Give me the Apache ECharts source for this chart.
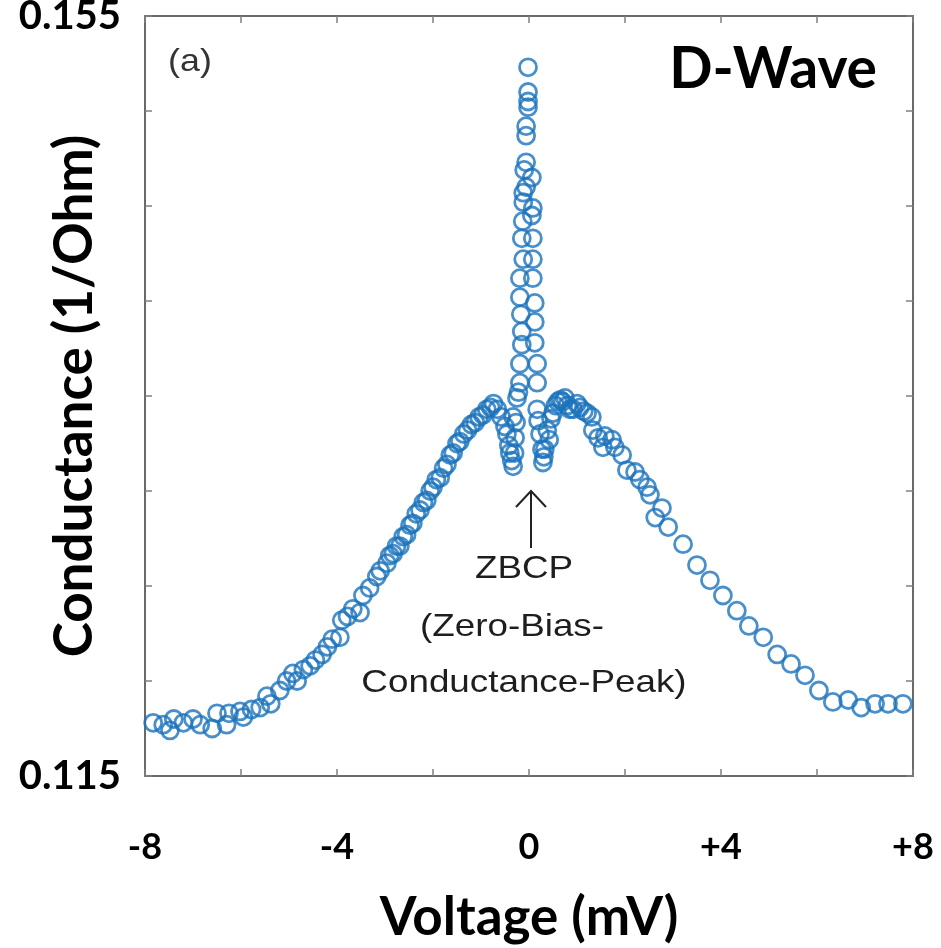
<!DOCTYPE html>
<html>
<head>
<meta charset="utf-8">
<script src="https://cdn.jsdelivr.net/npm/echarts@6/dist/echarts.min.js"></script>
<style>
  html, body { margin: 0; padding: 0; background: #fff; }
  #chart { width: 941px; height: 948px; }
</style>
</head>
<body>
<div id="chart"></div>
<script>
// bias voltage (mV) / conductance (1/Ohm)
// left wing: flat tail, rising edge, shoulder and left dip
var leftV = [-7.83,-7.62,-7.48,-7.40,-7.20,-7.00,-6.85,-6.60,-6.50,-6.30,
  -6.25,-6.02,-5.95,-5.78,-5.60,-5.46,-5.38,-5.19,-5.05,-4.92,
  -4.83,-4.70,-4.56,-4.45,-4.31,-4.20,-4.10,-3.94,-3.90,-3.78,
  -3.67,-3.52,-3.46,-3.32,-3.17,-3.10,-2.96,-2.90,-2.83,-2.76,
  -2.69,-2.62,-2.55,-2.48,-2.42,-2.35,-2.27,-2.20,-2.13,-2.06,
  -2.00,-1.93,-1.85,-1.78,-1.71,-1.64,-1.58,-1.50,-1.44,-1.36,
  -1.28,-1.20,-1.12,-1.04,-0.96,-0.88,-0.80,-0.74,-0.66,-0.58,
  -0.50,-0.46,-0.42,-0.40,-0.36,-0.33];
var leftG = [0.1178,0.1177,0.1174,0.1180,0.1178,0.1180,0.1177,0.1175,0.1183,0.1177,
  0.1183,0.1184,0.1181,0.1185,0.1186,0.1192,0.1188,0.1195,0.1200,0.1204,
  0.1200,0.1206,0.1208,0.1211,0.1214,0.1218,0.1222,0.1223,0.1232,0.1234,
  0.1238,0.1236,0.1245,0.1249,0.1255,0.1258,0.1262,0.1266,0.1267,0.1271,
  0.1271,0.1276,0.1277,0.1282,0.1283,0.1288,0.1290,0.1294,0.1295,0.1300,
  0.1302,0.1306,0.1307,0.1312,0.1314,0.1319,0.1320,0.1325,0.1326,0.1330,
  0.1332,0.1335,0.1336,0.1339,0.1340,0.1343,0.1344,0.1346,0.1343,0.1339,
  0.1334,0.1330,0.1324,0.1320,0.1316,0.1313];

// zero-bias peak (two columns of points)
var peakV = [-0.30,-0.29,-0.27,-0.33,-0.25,-0.22,-0.19,-0.19,-0.15,-0.15,
  -0.17,-0.19,-0.19,-0.12,-0.15,-0.13,-0.12,-0.12,-0.06,-0.10,
  -0.06,-0.06,-0.06,-0.02,-0.02,-0.02,-0.02,
  0.06,0.08,0.06,0.08,0.08,0.08,0.12,0.12,0.12,0.17,
  0.17,0.17,0.19,0.23,0.27,0.29,0.31];
var peakG = [0.1320,0.1328,0.1336,0.1339,0.1349,0.1352,0.1357,0.1367,0.1377,0.1384,
  0.1393,0.1402,0.1412,0.1422,0.1433,0.1442,0.1452,0.1457,0.1460,0.1469,
  0.1473,0.1487,0.1492,0.1502,0.1505,0.1510,0.1523,
  0.1465,0.1449,0.1445,0.1433,0.1422,0.1412,0.1399,0.1389,0.1378,0.1367,
  0.1357,0.1343,0.1337,0.1330,0.1322,0.1315,0.1318];

// right dip, shoulder and falling wing
var rightV = [0.33,0.38,0.42,0.46,0.50,0.55,0.60,0.65,0.70,0.75,
  0.80,0.85,0.92,1.00,1.06,1.14,1.21,1.31,1.33,1.44,
  1.54,1.58,1.73,1.79,1.94,2.04,2.21,2.31,2.46,2.52,
  2.63,2.77,2.90,3.21,3.50,3.77,4.04,4.33,4.58,4.88,
  5.17,5.46,5.75,6.04,6.33,6.65,6.92,7.21,7.48,7.79];
var rightG = [0.1322,0.1332,0.1327,0.1338,0.1341,0.1345,0.1347,0.1348,0.1347,0.1349,
  0.1345,0.1343,0.1343,0.1346,0.1344,0.1342,0.1341,0.1339,0.1332,0.1328,
  0.1323,0.1329,0.1327,0.1323,0.1319,0.1311,0.1310,0.1306,0.1302,0.1298,
  0.1286,0.1291,0.1281,0.1272,0.1261,0.1253,0.1245,0.1237,0.1229,0.1223,
  0.1214,0.1209,0.1203,0.1195,0.1189,0.1190,0.1186,0.1188,0.1188,0.1188];

// labelled ticks
var xLabelValues = [-8, -4, 0, 4, 8];
var xTickLabels = ['-8', '-4', '0', '+4', '+8'];
var yLabelValues = [0.115, 0.155];
var yTickLabels = ['0.115', '0.155'];

function zip(vs, gs) {
  var out = [];
  for (var i = 0; i < Math.min(vs.length, gs.length); i++) out.push([vs[i], gs[i]]);
  return out;
}
var points = zip(leftV, leftG).concat(zip(peakV, peakG), zip(rightV, rightG));

var boldFont = 'Lato';
var axisGray = '#6a6a6a';
var tickStyle = { inside: true, length: 7, lineStyle: { color: '#808080', width: 1.5 } };

var myChart = echarts.init(document.getElementById('chart'));
var option = {
  animation: false,
  backgroundColor: '#fff',
  grid: { left: 145, right: 28, top: 16, bottom: 172, containLabel: false, outerBoundsMode: 'none' },
  xAxis: [{
    type: 'value', position: 'bottom',
    min: -8, max: 8, interval: 2,
    name: 'Voltage (mV)', nameLocation: 'middle', nameGap: 115, nameMoveOverlap: false,
    nameTextStyle: { fontFamily: boldFont, fontWeight: 'bold', fontSize: 53, color: '#000' },
    axisLine: { onZero: false, lineStyle: { color: axisGray, width: 2 } },
    axisTick: tickStyle,
    splitLine: { show: false },
    axisLabel: {
      margin: 53, fontFamily: boldFont, fontWeight: 'bold', fontSize: 36, color: '#000',
      formatter: function (v) {
        var i = xLabelValues.indexOf(Math.round(v));
        return (i >= 0 && Math.abs(v - Math.round(v)) < 1e-9) ? xTickLabels[i] : '';
      }
    }
  }, {
    type: 'value', position: 'top',
    min: -8, max: 8, interval: 2,
    axisLine: { onZero: false, lineStyle: { color: axisGray, width: 2 } },
    axisTick: tickStyle,
    axisLabel: { show: false },
    splitLine: { show: false }
  }],
  yAxis: [{
    type: 'value', position: 'left',
    min: 0.115, max: 0.155, interval: 0.005,
    name: 'Conductance (1/Ohm)', nameLocation: 'middle', nameGap: 44, nameMoveOverlap: false,
    nameTextStyle: { fontFamily: boldFont, fontWeight: 'bold', fontSize: 53, color: '#000' },
    axisLine: { show: true, onZero: false, lineStyle: { color: axisGray, width: 2 } },
    axisTick: tickStyle,
    splitLine: { show: false },
    axisLabel: {
      margin: 24, fontFamily: boldFont, fontWeight: 'bold', fontSize: 40, color: '#000',
      formatter: function (v) {
        for (var i = 0; i < yLabelValues.length; i++) {
          if (Math.abs(yLabelValues[i] - v) < 1e-9) return yTickLabels[i];
        }
        return '';
      }
    }
  }, {
    type: 'value', position: 'right',
    min: 0.115, max: 0.155, interval: 0.005,
    axisLine: { show: true, onZero: false, lineStyle: { color: axisGray, width: 2 } },
    axisTick: tickStyle,
    axisLabel: { show: false },
    splitLine: { show: false }
  }],
  series: [{
    name: 'dI/dV',
    type: 'scatter',
    symbol: 'circle',
    symbolSize: 17,
    itemStyle: { color: 'rgba(0,0,0,0)', borderColor: '#1b73bc', borderWidth: 2.8 },
    emphasis: { disabled: true },
    data: points
  }],
  graphic: [
    { type: 'text', x: 190, y: 62, scaleX: 1.12,
      style: { text: '(a)', font: '32px "Liberation Sans"', fill: '#333',
        align: 'center', verticalAlign: 'middle', textAlign: 'center', textVerticalAlign: 'middle' } },
    { type: 'text', x: 877, y: 70,
      style: { text: 'D-Wave', font: 'bold 57px Lato', fill: '#000',
        align: 'right', verticalAlign: 'middle', textAlign: 'right', textVerticalAlign: 'middle' } },
    { type: 'line', shape: { x1: 531, y1: 548, x2: 531, y2: 491 },
      style: { stroke: '#222', lineWidth: 2 } },
    { type: 'polyline', shape: { points: [[516, 507], [531, 491], [546, 507]] },
      style: { stroke: '#222', lineWidth: 2, fill: null } },
    { type: 'text', x: 524, y: 569, scaleX: 1.15,
      style: { text: 'ZBCP', font: '32px "Liberation Sans"', fill: '#1e1e1e',
        align: 'center', verticalAlign: 'middle', textAlign: 'center', textVerticalAlign: 'middle' } },
    { type: 'text', x: 512, y: 627, scaleX: 1.15,
      style: { text: '(Zero-Bias-', font: '32px "Liberation Sans"', fill: '#1e1e1e',
        align: 'center', verticalAlign: 'middle', textAlign: 'center', textVerticalAlign: 'middle' } },
    { type: 'text', x: 524, y: 683, scaleX: 1.15,
      style: { text: 'Conductance-Peak)', font: '32px "Liberation Sans"', fill: '#1e1e1e',
        align: 'center', verticalAlign: 'middle', textAlign: 'center', textVerticalAlign: 'middle' } }
  ]
};
myChart.setOption(option);
</script>
</body>
</html>
